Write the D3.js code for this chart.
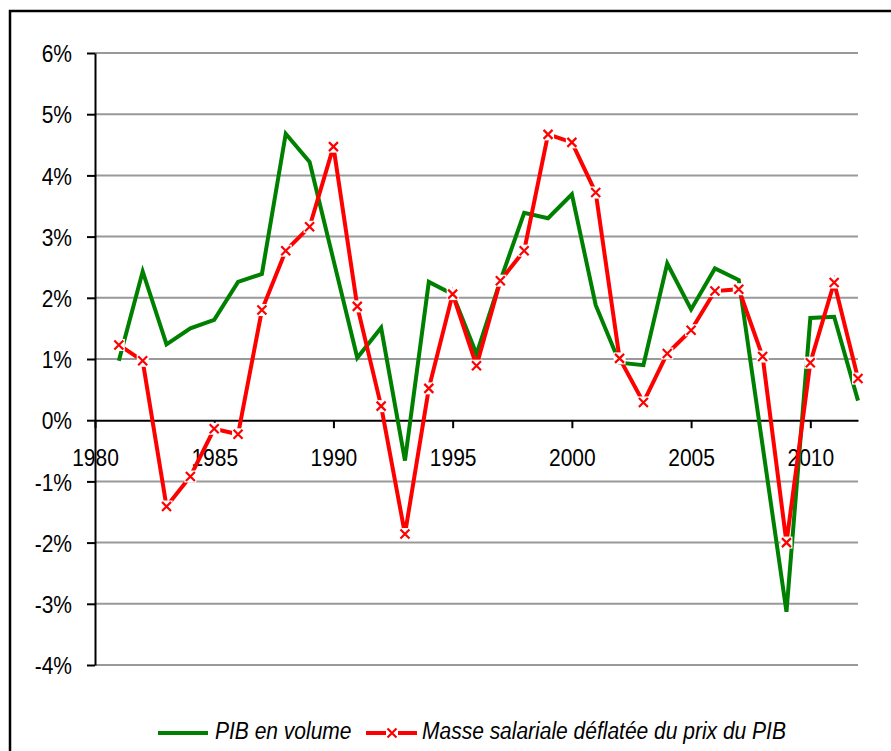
<!DOCTYPE html>
<html>
<head>
<meta charset="utf-8">
<script src="https://cdn.jsdelivr.net/npm/d3@7"></script>
<style>
  html, body { margin: 0; padding: 0; background: #fff; }
  svg { display: block; }
  text { font-family: "Liberation Sans", Arial, sans-serif; }
</style>
</head>
<body>
<svg id="chart" width="891" height="751"></svg>
<script>
// ---- Data ----
const years = d3.range(1981, 2013);
const pibVolume = [0.97, 2.43, 1.24, 1.50, 1.64, 2.26, 2.39, 4.68, 4.22, 2.62,
                   1.02, 1.51, -0.66, 2.26, 2.06, 1.08, 2.28, 3.39, 3.30, 3.69,
                   1.88, 0.94, 0.90, 2.56, 1.81, 2.48, 2.29, -0.42, -3.13, 1.67,
                   1.69, 0.32];
const masseSalariale = [1.23, 0.97, -1.41, -0.92, -0.14, -0.23, 1.80, 2.77, 3.16, 4.47,
                        1.86, 0.23, -1.86, 0.52, 2.06, 0.89, 2.28, 2.77, 4.67, 4.54,
                        3.72, 1.01, 0.29, 1.09, 1.47, 2.11, 2.14, 1.04, -2.00, 0.94,
                        2.25, 0.68];
const xTicks = [1980, 1985, 1990, 1995, 2000, 2005, 2010];
const yTicks = [-4, -3, -2, -1, 0, 1, 2, 3, 4, 5, 6];
const seriesNames = ["PIB en volume", "Masse salariale déflatée du prix du PIB"];
const seriesColors = ["#008000", "#ff0000"];

(function () {
// ---- Layout ----
const svg = d3.select("#chart");
const pLeft = 95, pRight = 858, pTop = 53, pBottom = 665;
const sx = 0.875; // horizontal text compression

const x = d3.scaleLinear().domain([1980, 2012]).range([pLeft, pRight]);
const y = d3.scaleLinear().domain([-4, 6]).range([pBottom, pTop]);

// outer border
svg.append("rect")
  .attr("x", 10).attr("y", 11)
  .attr("width", 900).attr("height", 760)
  .attr("fill", "none").attr("stroke", "#000").attr("stroke-width", 2.5);

// gridlines
svg.append("g").selectAll("line")
  .data(yTicks.filter(d => d !== 0))
  .join("line")
  .attr("x1", pLeft).attr("x2", pRight)
  .attr("y1", d => y(d)).attr("y2", d => y(d))
  .attr("stroke", "#999").attr("stroke-width", 2);

// y axis
const yAxis = svg.append("g")
  .attr("transform", `translate(${pLeft},0)`)
  .call(d3.axisLeft(y).tickValues(yTicks).tickSize(8).tickSizeOuter(0)
        .tickFormat(d => d + "%"));
yAxis.select(".domain").attr("stroke", "#000").attr("stroke-width", 2);
yAxis.selectAll(".tick line").attr("stroke", "#000").attr("stroke-width", 2);
yAxis.selectAll(".tick text")
  .attr("x", -23 / sx).attr("dy", "0.36em")
  .attr("transform", `scale(${sx},1)`)
  .attr("font-size", 24).attr("fill", "#000")
  .style("font-family", '"Liberation Sans", Arial, sans-serif');

// x axis at 0%
const xAxis = svg.append("g")
  .attr("transform", `translate(0,${y(0)})`)
  .call(d3.axisBottom(x).tickValues(xTicks).tickSize(8).tickSizeOuter(0)
        .tickFormat(d3.format("d")));
xAxis.select(".domain").attr("stroke", "#000").attr("stroke-width", 2);
xAxis.selectAll(".tick line").attr("stroke", "#000").attr("stroke-width", 2);
xAxis.selectAll(".tick text")
  .attr("y", 46).attr("dy", 0)
  .attr("transform", `scale(${sx},1)`)
  .attr("font-size", 24).attr("fill", "#000")
  .style("font-family", '"Liberation Sans", Arial, sans-serif');

// lines
const line = d3.line().x((d, i) => x(years[i])).y(d => y(d));
svg.append("path").datum(pibVolume)
  .attr("d", line).attr("fill", "none")
  .attr("stroke", seriesColors[0]).attr("stroke-width", 4)
  .attr("stroke-linejoin", "miter");
svg.append("path").datum(masseSalariale)
  .attr("d", line).attr("fill", "none")
  .attr("stroke", seriesColors[1]).attr("stroke-width", 4)
  .attr("stroke-linejoin", "miter");

// markers
function drawMarker(g, cx, cy) {
  g.append("rect").attr("x", cx - 6).attr("y", cy - 6)
    .attr("width", 12).attr("height", 12).attr("fill", "#fff");
  const s = 4.5;
  g.append("path")
    .attr("d", `M${cx - s},${cy - s}L${cx + s},${cy + s}M${cx - s},${cy + s}L${cx + s},${cy - s}`)
    .attr("stroke", seriesColors[1]).attr("stroke-width", 2.2).attr("fill", "none");
}
const mg = svg.append("g");
masseSalariale.forEach((v, i) => drawMarker(mg, x(years[i]), y(v)));

// legend
const ly = 733;
const lg = svg.append("g");
lg.append("line").attr("x1", 158).attr("x2", 208).attr("y1", ly).attr("y2", ly)
  .attr("stroke", seriesColors[0]).attr("stroke-width", 4);
lg.append("text")
  .attr("transform", `translate(215,${ly + 6}) scale(${sx},1)`)
  .attr("font-size", 24).attr("font-style", "italic").attr("fill", "#000")
  .text(seriesNames[0]);
lg.append("line").attr("x1", 366).attr("x2", 417).attr("y1", ly).attr("y2", ly)
  .attr("stroke", seriesColors[1]).attr("stroke-width", 4);
drawMarker(lg, 392, ly);
lg.append("text")
  .attr("transform", `translate(422,${ly + 6}) scale(${sx},1)`)
  .attr("font-size", 24).attr("font-style", "italic").attr("fill", "#000")
  .text(seriesNames[1]);
})();
</script>
</body>
</html>
